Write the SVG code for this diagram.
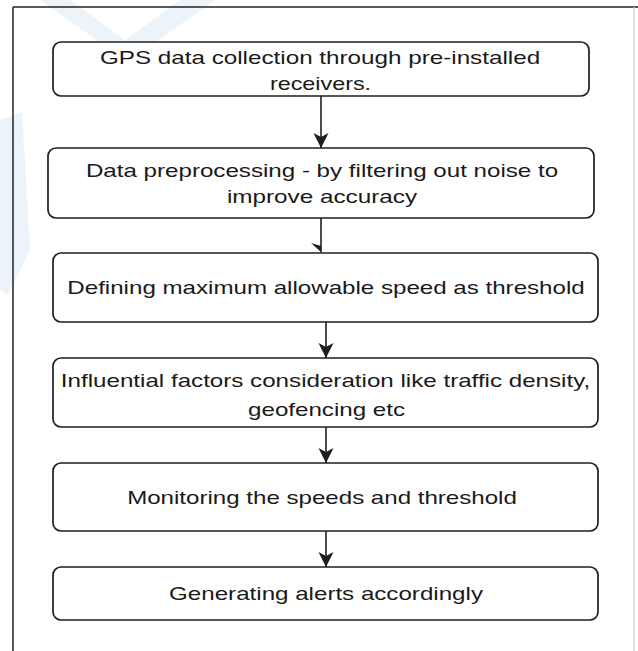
<svg xmlns="http://www.w3.org/2000/svg" width="638" height="651" viewBox="0 0 638 651">
  <defs>
    <style>
      .box { fill: #ffffff; stroke: #1e1e1e; stroke-width: 1.7; }
      .txt { font-family: "Liberation Sans", Arial, sans-serif; font-size: 18px; fill: #1a1a1a; text-anchor: middle; }
      .conn { stroke: #1e1e1e; stroke-width: 1.6; fill: none; }
      .wm { fill: #6fa4cf; opacity: 0.13; }
    </style>
    <marker id="arr" markerUnits="userSpaceOnUse" markerWidth="16" markerHeight="16" refX="15" refY="7.5" orient="auto">
      <path d="M0,0 L15,7.5 L0,15 L4,7.5 Z" fill="#1e1e1e"/>
    </marker>
  </defs>
  <rect x="0" y="0" width="638" height="651" fill="#ffffff"/>
  <g id="watermark">
    <polygon class="wm" points="40,0 70,0 125,40 180,0 215,0 128,62"/>
    <polygon class="wm" points="0,120 22,112 30,250 8,295 0,290"/>
  </g>
  <g id="frame">
    <line x1="13" y1="7" x2="638" y2="7" stroke="#222" stroke-width="1.5"/>
    <line x1="13" y1="7" x2="13" y2="651" stroke="#222" stroke-width="1.5"/>
    <line x1="634" y1="7" x2="634" y2="651" stroke="#cfcfcf" stroke-width="1.2"/>
  </g>
  <g id="connectors">
    <line class="conn" x1="321" y1="96" x2="321" y2="148" marker-end="url(#arr)"/>
    <line class="conn" x1="321" y1="218" x2="321" y2="252"/>
    <polygon points="311,243 321,252 321,246" fill="#1e1e1e"/>
    <line class="conn" x1="326" y1="322" x2="326" y2="358" marker-end="url(#arr)"/>
    <line class="conn" x1="326" y1="427" x2="326" y2="463" marker-end="url(#arr)"/>
    <line class="conn" x1="326" y1="531" x2="326" y2="567" marker-end="url(#arr)"/>
  </g>
  <g id="node1">
    <rect class="box" x="53" y="42" width="536" height="54" rx="8"/>
    <text class="txt" transform="translate(320,64) scale(1.33,1)" textLength="331" lengthAdjust="spacingAndGlyphs">GPS data collection through pre-installed</text>
    <text class="txt" transform="translate(320.5,90) scale(1.33,1)" textLength="76" lengthAdjust="spacingAndGlyphs">receivers.</text>
  </g>
  <g id="node2">
    <rect class="box" x="48" y="148" width="546" height="70" rx="8"/>
    <text class="txt" transform="translate(322,177) scale(1.33,1)" textLength="355" lengthAdjust="spacingAndGlyphs">Data preprocessing - by filtering out noise to</text>
    <text class="txt" transform="translate(322,203) scale(1.33,1)" textLength="143" lengthAdjust="spacingAndGlyphs">improve accuracy</text>
  </g>
  <g id="node3">
    <rect class="box" x="53" y="253" width="545" height="69" rx="8"/>
    <text class="txt" transform="translate(326,294) scale(1.33,1)" textLength="389" lengthAdjust="spacingAndGlyphs">Defining maximum allowable speed as threshold</text>
  </g>
  <g id="node4">
    <rect class="box" x="53" y="358" width="545" height="69" rx="8"/>
    <text class="txt" transform="translate(325.5,387) scale(1.33,1)" textLength="398" lengthAdjust="spacingAndGlyphs">Influential factors consideration like traffic density,</text>
    <text class="txt" transform="translate(326.5,416) scale(1.33,1)" textLength="118" lengthAdjust="spacingAndGlyphs">geofencing etc</text>
  </g>
  <g id="node5">
    <rect class="box" x="53" y="463" width="545" height="68" rx="8"/>
    <text class="txt" transform="translate(322,504) scale(1.33,1)" textLength="293" lengthAdjust="spacingAndGlyphs">Monitoring the speeds and threshold</text>
  </g>
  <g id="node6">
    <rect class="box" x="53" y="567" width="545" height="53" rx="8"/>
    <text class="txt" transform="translate(326,600) scale(1.33,1)" textLength="236" lengthAdjust="spacingAndGlyphs">Generating alerts accordingly</text>
  </g>
</svg>
